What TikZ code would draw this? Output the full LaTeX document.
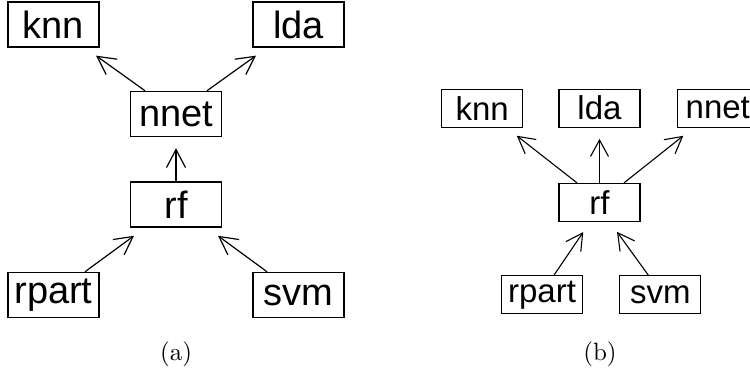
\documentclass[tikz,border=0pt]{standalone}
\usepackage{fontspec}
\newfontfamily\boxfont{Liberation Sans}
\newfontfamily\capfont{lmroman10-regular.otf}
\usetikzlibrary{positioning,arrows.meta,calc}

\begin{document}
\begin{tikzpicture}[
  x=1pt,y=-1pt,
  boxa/.style={rectangle,draw,line width=1.5pt,inner sep=0pt,
               minimum width=91pt,minimum height=45pt,
               font=\boxfont\fontsize{38}{38}\selectfont},
  boxb/.style={rectangle,draw,line width=1.3pt,inner sep=0pt,
               minimum width=81pt,minimum height=38pt,
               font=\boxfont\fontsize{33}{33}\selectfont},
  arra/.style={-{Straight Barb[length=18pt,width=19pt]},line width=1.2pt},
  arrb/.style={-{Straight Barb[length=16.5pt,width=18pt]},line width=1.1pt},
  sublbl/.style={font=\capfont\fontsize{25}{25}\selectfont}
]
\path[use as bounding box,clip] (0,0) rectangle (750,371);

% panel (a)
\node[boxa] (rfA) at (176,204.5) {rf};
\node[boxa,above=44pt of rfA] (nnetA) {nnet};
\node[boxa,above left=43pt and 30pt of nnetA] (knnA) {knn};
\node[boxa,above right=43pt and 30pt of nnetA] (ldaA) {lda};
\node[boxa,below left=44pt and 30pt of rfA] (rpartA) {rpart};
\node[boxa,below right=44pt and 30pt of rfA] (svmA) {svm};

\draw[arra,shorten >=11pt] (rfA) -- (nnetA);
\draw[arra,shorten >=13.6pt] ($(nnetA.north)+(-31,0)$) -- ($(knnA.south)+(31.5,0)$);
\draw[arra,shorten >=13.6pt] ($(nnetA.north)+(31,0)$) -- ($(ldaA.south)+(-31.5,0)$);
\draw[arra,shorten >=13.6pt] ($(rpartA.north)+(31.5,0)$) -- ($(rfA.south)+(-31,0)$);
\draw[arra,shorten >=13.6pt] ($(svmA.north)+(-31.5,0)$) -- ($(rfA.south)+(31,0)$);

\node[sublbl] (capA) at (176,354) {(a)};

% panel (b)
\node[boxb] (rfB) at (599.5,202.5) {rf};
\node[boxb,above=55pt of rfB] (ldaB) {lda};
\node[boxb,left=35pt of ldaB] (knnB) {knn};
\node[boxb,right=36pt of ldaB] (nnetB) {nnet};
\node[boxb,below=53pt of rfB,xshift=-57.5pt] (rpartB) {rpart};
\node[boxb,right=36pt of rpartB] (svmB) {svm};

\draw[arrb,shorten >=11pt] (rfB) -- (ldaB);
\draw[arrb,shorten >=12.8pt] ($(rfB.north)+(-22.5,0)$) -- ($(knnB.south)+(24.5,0)$);
\draw[arrb,shorten >=12.8pt] ($(rfB.north)+(24.5,0)$) -- ($(nnetB.south)+(-24.5,0)$);
\draw[arrb,shorten >=12pt] ($(rpartB.north)+(12,0)$) -- ($(rfB.south)+(-9.5,0)$);
\draw[arrb,shorten >=12pt] ($(svmB.north)+(-12,0)$) -- ($(rfB.south)+(10.5,0)$);

\node[sublbl] (capB) at (600,354) {(b)};
\end{tikzpicture}
\end{document}
